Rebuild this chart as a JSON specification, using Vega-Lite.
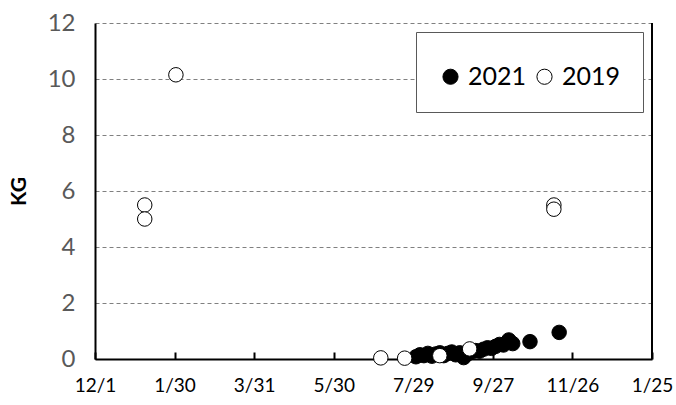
{
  "$schema": "https://vega.github.io/schema/vega-lite/v6.json",
  "autosize": "none",
  "width": 557,
  "height": 336,
  "padding": {"left": 95, "top": 23, "right": 24, "bottom": 46},
  "background": "white",
  "config": {
    "font": "Lato",
    "view": {"stroke": null}
  },
  "data": {
    "values": [
      {"series": "2021", "day": 242, "kg": 0.08},
      {"series": "2021", "day": 245, "kg": 0.15},
      {"series": "2021", "day": 248, "kg": 0.12},
      {"series": "2021", "day": 251, "kg": 0.2},
      {"series": "2021", "day": 254, "kg": 0.1},
      {"series": "2021", "day": 257, "kg": 0.18},
      {"series": "2021", "day": 260, "kg": 0.22},
      {"series": "2021", "day": 263, "kg": 0.12},
      {"series": "2021", "day": 266, "kg": 0.2},
      {"series": "2021", "day": 269, "kg": 0.25},
      {"series": "2021", "day": 272, "kg": 0.15},
      {"series": "2021", "day": 275, "kg": 0.22},
      {"series": "2021", "day": 278, "kg": 0.05},
      {"series": "2021", "day": 281, "kg": 0.18},
      {"series": "2021", "day": 284, "kg": 0.25},
      {"series": "2021", "day": 287, "kg": 0.3},
      {"series": "2021", "day": 290, "kg": 0.28},
      {"series": "2021", "day": 293, "kg": 0.35},
      {"series": "2021", "day": 296, "kg": 0.4},
      {"series": "2021", "day": 299, "kg": 0.38},
      {"series": "2021", "day": 302, "kg": 0.45},
      {"series": "2021", "day": 305, "kg": 0.52},
      {"series": "2021", "day": 308, "kg": 0.5},
      {"series": "2021", "day": 312, "kg": 0.68},
      {"series": "2021", "day": 315, "kg": 0.55},
      {"series": "2021", "day": 328, "kg": 0.62},
      {"series": "2021", "day": 350, "kg": 0.95},
      {"series": "2019", "day": 37.5, "kg": 5.5},
      {"series": "2019", "day": 37.5, "kg": 5.0},
      {"series": "2019", "day": 61, "kg": 10.15},
      {"series": "2019", "day": 346, "kg": 5.5},
      {"series": "2019", "day": 346, "kg": 5.35},
      {"series": "2019", "day": 215.5, "kg": 0.04},
      {"series": "2019", "day": 233.5, "kg": 0.03},
      {"series": "2019", "day": 260, "kg": 0.12},
      {"series": "2019", "day": 282.5, "kg": 0.36}
    ]
  },
  "layer": [
    {
      "mark": {"type": "rule", "color": "black", "strokeWidth": 1},
      "encoding": {"x": {"datum": 420, "type": "quantitative"}}
    },
    {
      "mark": {"type": "point", "filled": true, "stroke": "black", "strokeWidth": 1, "opacity": 1, "size": 210},
      "encoding": {
        "x": {
          "field": "day",
          "type": "quantitative",
          "scale": {"domain": [0, 420], "nice": false, "zero": false},
          "axis": {
            "values": [0, 60, 120, 180, 240, 300, 360, 420],
            "labelExpr": "timeFormat(datetime(2018, 11, 1 + datum.value), '%-m/%-d')",
            "title": null,
            "grid": false,
            "domainColor": "black",
            "domainWidth": 2,
            "tickColor": "black",
            "tickWidth": 2,
            "tickSize": -7,
            "labelPadding": 24,
            "labelFontSize": 19,
            "labelColor": "black",
            "labelFont": "Lato",
            "labelFlush": false
          }
        },
        "y": {
          "field": "kg",
          "type": "quantitative",
          "scale": {"domain": [0, 12], "nice": false},
          "axis": {
            "values": [0, 2, 4, 6, 8, 10, 12],
            "title": "KG",
            "titleFontSize": 21,
            "titleFontWeight": "bold",
            "titleColor": "black",
            "titlePadding": 18,
            "titleFont": "Lato",
            "ticks": false,
            "labelPadding": 20,
            "labelFontSize": 24,
            "labelColor": "#595959",
            "labelFont": "Lato",
            "domainColor": "black",
            "domainWidth": 2,
            "grid": true,
            "gridColor": "#808080",
            "gridDash": [4, 3],
            "gridWidth": 1
          }
        },
        "fill": {
          "field": "series",
          "type": "nominal",
          "sort": null,
          "scale": {"domain": ["2021", "2019"], "range": ["black", "white"]},
          "legend": {
            "title": " ",
            "titleFontSize": 8,
            "titlePadding": 2,
            "orient": "none",
            "legendX": 321,
            "legendY": 9,
            "direction": "horizontal",
            "fillColor": "white",
            "strokeColor": "#595959",
            "padding": 22,
            "labelFontSize": 25,
            "labelFont": "Lato",
            "labelColor": "black",
            "symbolType": "circle",
            "symbolSize": 230,
            "symbolStrokeColor": "black",
            "symbolStrokeWidth": 1,
            "symbolOpacity": 1,
            "columnPadding": 5,
            "labelOffset": 5
          }
        }
      }
    }
  ]
}
